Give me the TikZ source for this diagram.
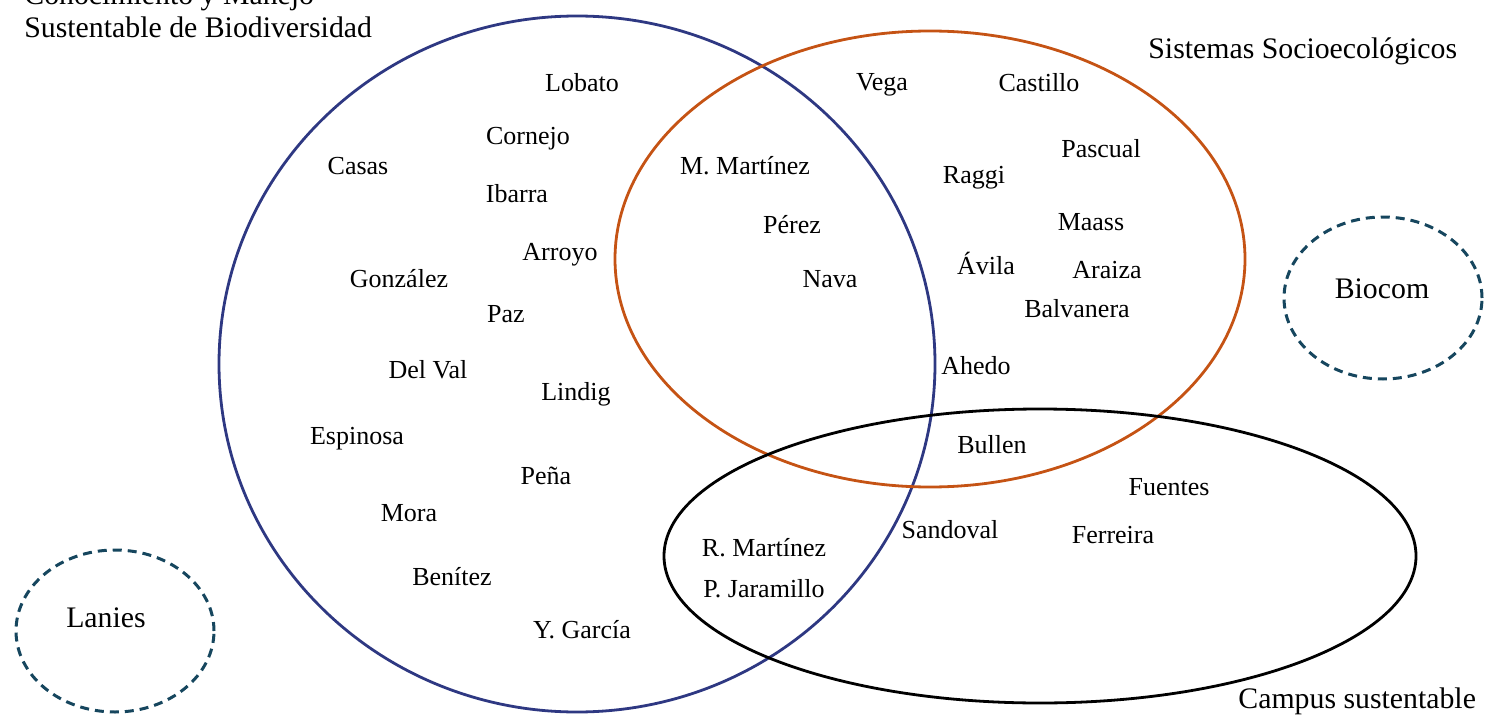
\documentclass[tikz,border=0pt]{standalone}
\usepackage{fontspec}
\setmainfont{Liberation Serif}
\definecolor{cmbblue}{RGB}{46,56,130}
\definecolor{sseorange}{RGB}{197,83,20}
\definecolor{dashteal}{RGB}{22,70,94}
\tikzset{
  member/.style={anchor=base, inner sep=0pt, font=\fontsize{13}{15}\selectfont},
  settitle/.style={anchor=base, inner sep=0pt, font=\fontsize{14.9}{16.5}\selectfont},
  setline/.style={line width=1.4pt},
  freeset/.style={line width=1.5pt, dashteal, dash pattern=on 4.5pt off 3pt}
}
\begin{document}
\begin{tikzpicture}[x=0.5pt, y=-0.5pt]
      \useasboundingbox (0,0) rectangle (1499,717);
      % sets
      \draw[setline, cmbblue] (577,364) ellipse [x radius=179pt, y radius=174pt];
      \draw[setline, sseorange] (930,259) ellipse [x radius=157.5pt, y radius=114pt];
      \draw[setline, black] (1040,556) ellipse [x radius=188pt, y radius=73.5pt];
      \draw[freeset] (1383,298) ellipse [x radius=49.5pt, y radius=40.5pt];
      \draw[freeset] (115,631) ellipse [x radius=49.5pt, y radius=40.5pt];
      % set titles
      \node[settitle, anchor=south west, align=left] (cmb) at (24,38)
        {Conocimiento y Manejo\\Sustentable de Biodiversidad};
      \node[settitle, anchor=base west] (sse) at (1148,59) {Sistemas Socioecológicos};
      \node[settitle, anchor=base west] (campus) at (1238,708) {Campus sustentable};
      \node[settitle] (biocom) at (1382,298) {Biocom};
      \node[settitle] (lanies) at (106,627) {Lanies};
      % members
      \draw
        (582,92) node[member] (lobato){Lobato}
        (528,145) node[member] (cornejo){Cornejo}
        (358,174) node[member] (casas){Casas}
        (517,202) node[member] (ibarra){Ibarra}
        (560,260) node[member] (arroyo){Arroyo}
        (399,287) node[member] (gonzalez){González}
        (506,322) node[member] (paz){Paz}
        (428,378) node[member] (delval){Del Val}
        (576,400) node[member] (lindig){Lindig}
        (357,444) node[member] (espinosa){Espinosa}
        (546,484) node[member] (pena){Peña}
        (409,521) node[member] (mora){Mora}
        (452,585) node[member] (benitez){Benítez}
        (582,638) node[member] (ygarcia){Y. García}
        (745,175) node[member] (mmartinez){M. Martínez}
        (792,233) node[member] (perez){Pérez}
        (830,287) node[member] (nava){Nava}
        (882,91) node[member] (vega){Vega}
        (1039,92) node[member] (castillo){Castillo}
        (1101,157) node[member] (pascual){Pascual}
        (974,184) node[member] (raggi){Raggi}
        (1091,230) node[member] (maass){Maass}
        (986,274) node[member] (avila){Ávila}
        (1107,278) node[member] (araiza){Araiza}
        (1077,317) node[member] (balvanera){Balvanera}
        (976,374) node[member] (ahedo){Ahedo}
        (992,453) node[member] (bullen){Bullen}
        (1169,495) node[member] (fuentes){Fuentes}
        (950,538) node[member] (sandoval){Sandoval}
        (1113,543) node[member] (ferreira){Ferreira}
        (764,556) node[member] (rmartinez){R. Martínez}
        (764,597) node[member] (pjaramillo){P. Jaramillo};
    \end{tikzpicture}
\end{document}
